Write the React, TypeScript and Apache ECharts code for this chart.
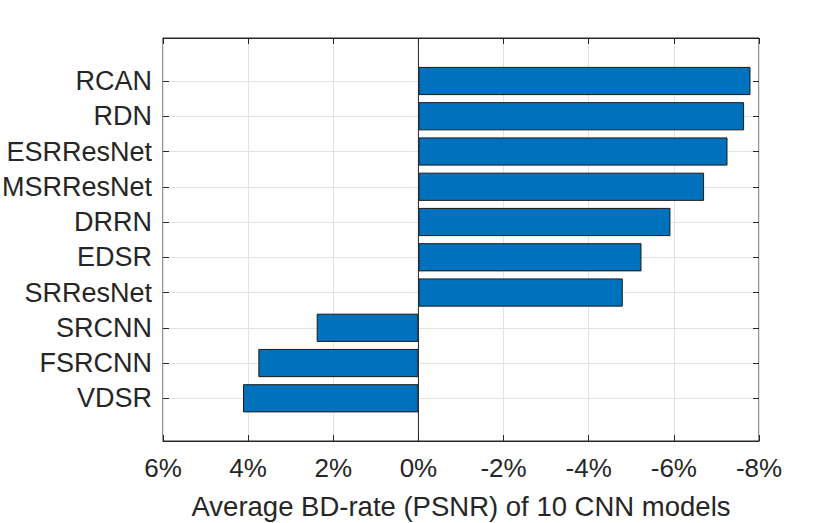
import React, { useEffect, useRef } from "react";
import * as echarts from "echarts";

const categories = ["RCAN", "RDN", "ESRResNet", "MSRResNet", "DRRN", "EDSR", "SRResNet", "SRCNN", "FSRCNN", "VDSR"];
const bdRate = [-7.8, -7.65, -7.26, -6.71, -5.92, -5.24, -4.8, 2.39, 3.76, 4.12];
const xMin = -8;
const xMax = 6;
const xInterval = 2;
const baselineValue = 0;
const xTitle = "Average BD-rate (PSNR) of 10 CNN models";

const FONT = "'Liberation Sans', Arial, Helvetica, sans-serif";
const INK = "#262626";
const GRID = "#e3e3e3";

export default function App() {
  const ref = useRef<HTMLDivElement>(null);

  useEffect(() => {
    if (!ref.current) return;
    const chart = echarts.init(ref.current, null, { renderer: "svg" });
    const plotLeft = 163;
    const plotWidth = 596;
    const frameTop = 38;
    const frameHeight = 403;
    const rowTop = 81;
    const rowHeight = 317.3;

    chart.setOption({
      animation: false,
      backgroundColor: "#ffffff",
      textStyle: { fontFamily: FONT, color: INK },
      grid: [
        {
          left: plotLeft,
          top: frameTop,
          width: plotWidth,
          height: frameHeight,
          show: true,
          borderColor: INK,
          borderWidth: 1,
          backgroundColor: "transparent",
          containLabel: false,
          outerBoundsMode: "none",
        },
        {
          left: plotLeft,
          top: rowTop,
          width: plotWidth,
          height: rowHeight,
          show: false,
          containLabel: false,
          outerBoundsMode: "none",
        },
      ],
      xAxis: [
        {
          gridIndex: 0,
          type: "value",
          inverse: true,
          min: xMin,
          max: xMax,
          interval: xInterval,
          position: "bottom",
          axisLine: { show: true, onZero: false, lineStyle: { color: INK, width: 1 } },
          axisTick: { show: true, inside: true, length: 6, lineStyle: { color: INK } },
          axisLabel: {
            show: true,
            formatter: (v: number) => `${v}%`,
            fontSize: 26,
            color: INK,
            fontFamily: FONT,
            margin: 14,
            showMinLabel: true,
            showMaxLabel: true,
          },
          splitLine: { show: true, lineStyle: { color: GRID, width: 1 } },
          name: xTitle,
          nameLocation: "middle",
          nameGap: 51,
          nameTextStyle: { fontSize: 27.5, color: INK, fontFamily: FONT },
        },
        {
          gridIndex: 0,
          type: "value",
          inverse: true,
          min: xMin,
          max: xMax,
          interval: xInterval,
          position: "top",
          axisLine: { show: true, onZero: false, lineStyle: { color: INK, width: 1 } },
          axisTick: { show: true, inside: true, length: 6, lineStyle: { color: INK } },
          axisLabel: { show: false },
          splitLine: { show: false },
        },
        {
          gridIndex: 1,
          type: "value",
          inverse: true,
          min: xMin,
          max: xMax,
          show: false,
        },
      ],
      yAxis: [
        {
          gridIndex: 0,
          type: "value",
          min: 0,
          max: 1,
          show: false,
        },
        {
          gridIndex: 1,
          type: "category",
          data: categories,
          inverse: true,
          boundaryGap: false,
          position: "left",
          axisLine: { show: false, onZero: false },
          axisTick: { show: true, inside: true, length: 6, lineStyle: { color: INK } },
          axisLabel: { fontSize: 27, color: INK, fontFamily: FONT, margin: 11 },
          splitLine: { show: true, lineStyle: { color: GRID, width: 1 } },
        },
        {
          gridIndex: 1,
          type: "category",
          data: categories,
          inverse: true,
          boundaryGap: false,
          position: "right",
          axisLine: { show: false, onZero: false },
          axisTick: { show: true, inside: true, length: 6, lineStyle: { color: INK } },
          axisLabel: { show: false },
          splitLine: { show: false },
        },
      ],
      series: [
        {
          type: "bar",
          xAxisIndex: 2,
          yAxisIndex: 1,
          data: bdRate,
          barWidth: "80%",
          clip: false,
          itemStyle: { color: "#0072BD", borderColor: "#1a1a1a", borderWidth: 1 },
          z: 2,
        },
        {
          type: "line",
          xAxisIndex: 0,
          yAxisIndex: 0,
          data: [
            [baselineValue, 0],
            [baselineValue, 1],
          ],
          symbol: "none",
          lineStyle: { color: INK, width: 1 },
          z: 3,
        },
      ],
    });

    return () => chart.dispose();
  }, []);

  return (
    <div
      ref={ref}
      style={{ position: "fixed", left: 0, top: 0, width: 839, height: 523 }}
    />
  );
}
